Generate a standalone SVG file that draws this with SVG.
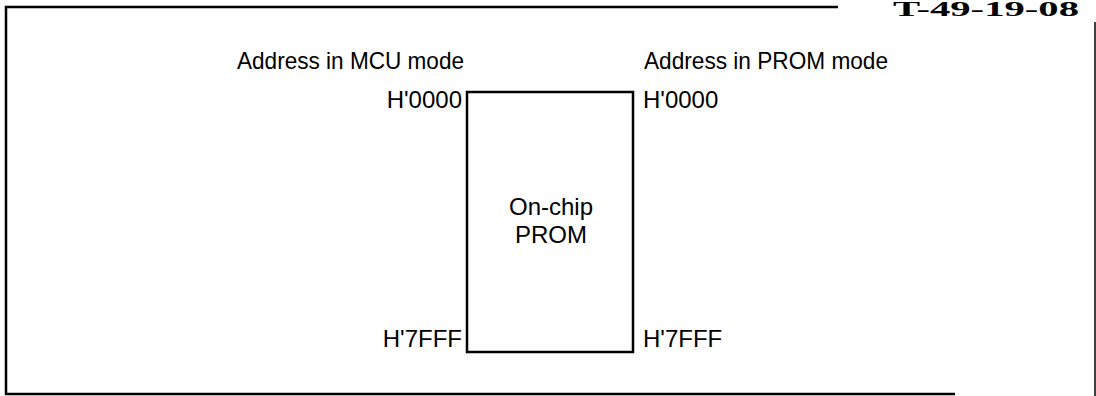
<svg xmlns="http://www.w3.org/2000/svg" width="1096" height="396" viewBox="0 0 1096 396">
<style>
.t{font-family:"Liberation Sans",Arial,sans-serif;font-size:24px;fill:#000}
.frame{fill:none;stroke:#000;stroke-width:2.5}
.box{fill:#fff;stroke:#000;stroke-width:2.5}
.hdr{font-family:"Liberation Serif","Times New Roman",serif;font-weight:bold;font-size:20px;fill:#000}
</style>
<rect width="1096" height="396" fill="#fff"/>
<g id="frame">
<polyline class="frame" points="838,7 6,7 6,394 955,394"/>
<line x1="1095" y1="22" x2="1095" y2="396" stroke="#000" stroke-width="1.5"/>
<text class="hdr" x="893" y="16" textLength="186" lengthAdjust="spacingAndGlyphs">T-49-19-08</text>
</g>
<g id="labels">
<text class="t" x="237" y="69" textLength="227" lengthAdjust="spacingAndGlyphs">Address in MCU mode</text>
<text class="t" x="644" y="69" textLength="244" lengthAdjust="spacingAndGlyphs">Address in PROM mode</text>
</g>
<g id="prom">
<rect class="box" x="467" y="92" width="166" height="260"/>
<text class="t" x="551" y="215" text-anchor="middle">On-chip</text>
<text class="t" x="551" y="243" text-anchor="middle">PROM</text>
</g>
<g id="addr-left">
<text class="t" x="462" y="108" text-anchor="end">H'0000</text>
<text class="t" x="462" y="347" text-anchor="end">H'7FFF</text>
</g>
<g id="addr-right">
<text class="t" x="643" y="108">H'0000</text>
<text class="t" x="643" y="347">H'7FFF</text>
</g>
<g id="connectors"></g>
</svg>
